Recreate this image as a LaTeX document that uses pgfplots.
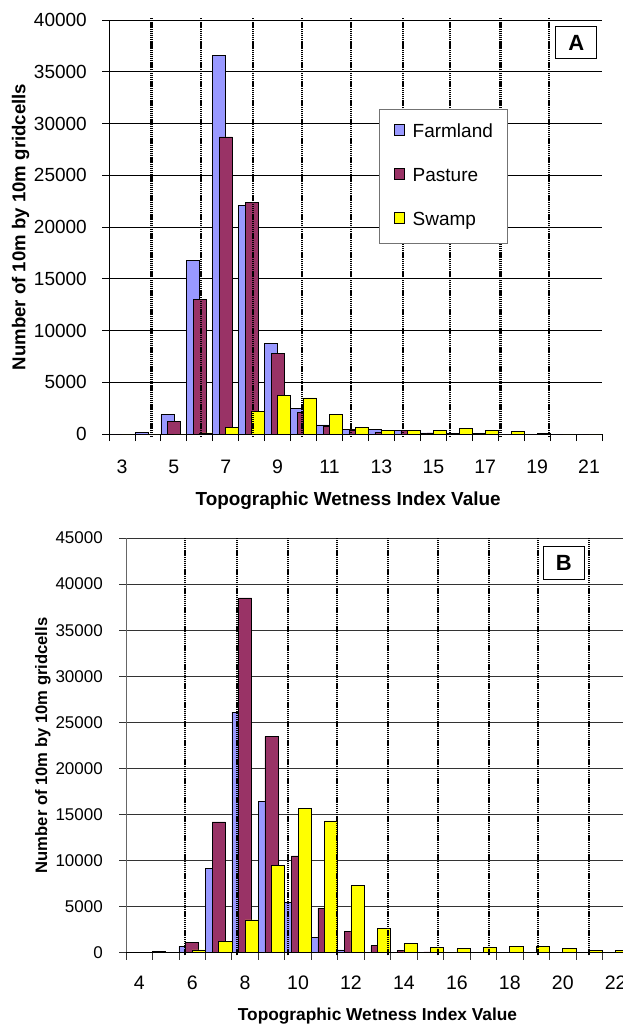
\documentclass[border=0pt]{standalone}
\usepackage{fontspec}
\setmainfont{Liberation Sans}
\usepackage{pgfplots}
\usepackage{pgfplotstable}
\pgfplotsset{compat=1.18}

\definecolor{farm}{HTML}{9999FF}
\definecolor{past}{HTML}{993366}
\definecolor{swamp}{HTML}{FFFF00}

\pgfplotstableread{
x farm past swamp
3 0 0 0
4 120 0 0
5 1900 1250 0
6 16800 13000 100
7 36600 28700 610
8 22100 22400 2150
9 8750 7800 3700
10 2450 2050 3480
11 870 770 1900
12 480 390 620
13 480 160 330
14 330 330 330
15 110 110 330
16 90 90 500
17 30 0 330
18 0 0 210
19 0 0 60
20 0 0 0
21 0 0 0
}\topdata

\pgfplotstableread{
x farm past swamp
4 0 0 0
5 100 50 0
6 690 1100 310
7 9160 14200 1260
8 26100 38500 3560
9 16400 23450 9470
10 5500 10500 15680
11 1700 4830 14300
12 310 2300 7280
13 60 770 2650
14 60 230 1000
15 60 80 540
16 50 50 420
17 40 40 540
18 40 40 650
19 40 40 650
20 30 30 420
21 30 30 270
22 30 30 270
23 0 0 0
}\botdata

\pgfplotsset{
  sqlegend/.style={legend image code/.code={\draw[##1, draw=black, line width=0.7pt] (0pt,0pt) rectangle (10.7pt,10.7pt);}},
  barA/.style={ybar, bar width=0.5, bar shift=-0.25, fill=farm, draw=black, line width=0.7pt, sqlegend},
  barB/.style={ybar, bar width=0.5, bar shift=0, fill=past, draw=black, line width=0.7pt, sqlegend},
  barC/.style={ybar, bar width=0.5, bar shift=0.25, fill=swamp, draw=black, line width=0.7pt, sqlegend},
  dotline/.style={forget plot, black, line width=2.2pt, dash pattern=on 1.2pt off 0.7pt, unbounded coords=jump},
  common/.style={
    scale only axis,
    axis lines*=left,
    clip=false,
    ymin=0,
    ymajorgrids,
    scaled y ticks=false,
    tick align=outside,
    major tick length=7pt,
    /pgf/number format/1000 sep={},
    /pgf/number format/assume math mode=true,
    yticklabel style={anchor=east, inner sep=0pt},
    xticklabels={},
    extra x tick style={major tick length=0pt},
    extra x tick labels={},
  },
}

\begin{document}
\begin{tikzpicture}[x=1pt,y=1pt]
% ---------------- Chart A ----------------
\begin{axis}[common,
  at={(109pt,-434pt)}, anchor=south west,
  width=493pt, height=414pt,
  xmin=2.5, xmax=21.5, ymax=40000,
  ytick={0,5000,...,40000},
  xtick={2.5,3.5,...,21.5},
  extra x ticks={3,5,...,21},
  extra x tick labels={3,5,7,9,11,13,15,17,19,21},
  major grid style={black, line width=0.8pt},
  axis line style={black, line width=0.9pt},
  every tick/.style={black, line width=0.8pt},
  yticklabel style={font=\fontsize{19}{20}\selectfont, xshift=-15pt},
  xticklabel style={font=\fontsize{19.5}{20}\selectfont, anchor=base, yshift=-39.5pt},
  xlabel={Topographic Wetness Index Value},
  ylabel={Number of 10m by 10m gridcells},
  xlabel style={at={(rel axis cs:0.485,-0.16)}, anchor=center, font=\bfseries\fontsize{18.9}{20}\selectfont},
  ylabel style={at={(rel axis cs:-0.1795,0.5)}, anchor=center, font=\bfseries\fontsize{18.6}{20}\selectfont},
  legend style={at={(rel axis cs:0.548,0.784)}, anchor=north west,
    draw=black!55, line width=0.8pt, fill=white,
    font=\fontsize{19}{20}\selectfont,
    inner xsep=14pt, inner ysep=14.5pt, row sep=28pt,
    nodes={inner sep=0pt, text height=0.75em, text depth=0.25em},
    /tikz/every odd column/.append style={column sep=7.7pt}},
  legend cell align=left,
]
\addplot[barA] table[x=x,y=farm]{\topdata};
\addplot[barB] table[x=x,y=past]{\topdata};
\addplot[barC] table[x=x,y=swamp]{\topdata};
\addplot[dotline] coordinates {
 (4.14,-290) (4.14,40190) (4.14,nan)
 (6.05,-290) (6.05,40190) (6.05,nan)
 (8.05,-290) (8.05,40190) (8.05,nan)
 (9.93,-290) (9.93,40190) (9.93,nan)
 (11.82,-290) (11.82,40190) (11.82,nan)
 (13.82,-290) (13.82,40190) (13.82,nan)
 (15.65,-290) (15.65,40190) (15.65,nan)
 (17.59,-290) (17.59,40190) (17.59,nan)
 (19.47,-290) (19.47,40190)
};
\legend{Farmland,Pasture,Swamp}
\node[draw=black, line width=0.9pt, fill=white, minimum width=41pt, minimum height=31.6pt, inner sep=0pt,
  font=\bfseries\fontsize{22}{22}\selectfont] at (rel axis cs:0.948,0.9457) {A};
\end{axis}

% ---------------- Chart B ----------------
\begin{axis}[common,
  at={(126pt,-952.7pt)}, anchor=south west,
  width=529.4pt, height=414.7pt,
  xmin=3.5, xmax=23.5, ymax=45000,
  ytick={0,5000,...,45000},
  xtick={3.5,4.5,...,23.5},
  extra x ticks={4,6,...,22},
  extra x tick labels={4,6,8,10,12,14,16,18,20,22},
  major grid style={black!80, line width=0.8pt},
  axis line style={black!60, line width=1pt},
  every tick/.style={black!80, line width=0.8pt},
  yticklabel style={font=\fontsize{17}{18}\selectfont, xshift=-16pt},
  xticklabel style={font=\fontsize{19.5}{20}\selectfont, anchor=base, yshift=-36.6pt},
  xlabel={Topographic Wetness Index Value},
  ylabel={Number of 10m by 10m gridcells},
  xlabel style={at={(rel axis cs:0.475,-0.153)}, anchor=center, font=\bfseries\fontsize{17.3}{18}\selectfont},
  ylabel style={at={(rel axis cs:-0.157,0.5)}, anchor=center, font=\bfseries\fontsize{16.6}{18}\selectfont},
]
\addplot[barA] table[x=x,y=farm]{\botdata};
\addplot[barB] table[x=x,y=past]{\botdata};
\addplot[barC] table[x=x,y=swamp]{\botdata};
\addplot[dotline] coordinates {
 (5.74,-300) (5.74,45000) (5.74,nan)
 (7.68,-300) (7.68,45000) (7.68,nan)
 (9.61,-300) (9.61,45000) (9.61,nan)
 (11.47,-300) (11.47,45000) (11.47,nan)
 (13.39,-300) (13.39,45000) (13.39,nan)
 (15.30,-300) (15.30,45000) (15.30,nan)
 (17.20,-300) (17.20,45000) (17.20,nan)
 (19.06,-300) (19.06,45000) (19.06,nan)
 (20.99,-300) (20.99,45000)
};
\node[draw=black, line width=0.9pt, fill=white, minimum width=41pt, minimum height=33pt, inner sep=0pt,
  font=\bfseries\fontsize{22}{22}\selectfont] at (rel axis cs:0.827,0.9404) {B};
\end{axis}
\pgfresetboundingbox
\path[use as bounding box] (0pt,-1024pt) rectangle (622pt,0pt);
\end{tikzpicture}
\end{document}
